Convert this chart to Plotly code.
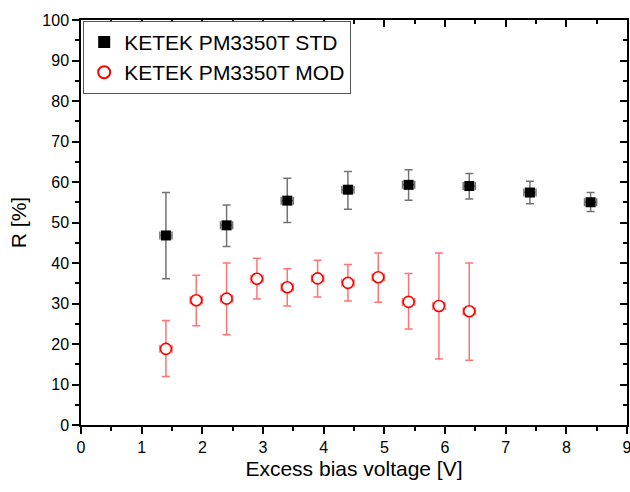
import plotly.graph_objects as go

# STD series
std_x = [1.4, 2.4, 3.4, 4.4, 5.4, 6.4, 7.4, 8.4]
std_y = [46.8, 49.3, 55.4, 58.1, 59.3, 59.0, 57.4, 55.0]
std_up = [57.4, 54.3, 60.9, 62.6, 63.0, 62.1, 60.2, 57.4]
std_lo = [36.1, 44.1, 50.0, 53.3, 55.5, 55.8, 54.6, 52.7]

# MOD series
mod_x = [1.4, 1.9, 2.4, 2.9, 3.4, 3.9, 4.4, 4.9, 5.4, 5.9, 6.4]
mod_y = [18.8, 30.8, 31.2, 36.1, 34.0, 36.2, 35.1, 36.5, 30.4, 29.4, 28.1]
mod_up = [25.8, 37.0, 40.0, 41.2, 38.6, 40.7, 39.6, 42.5, 37.4, 42.5, 40.0]
mod_lo = [12.0, 24.5, 22.3, 31.1, 29.4, 31.6, 30.6, 30.3, 23.7, 16.3, 16.0]

x_err = 0.1

x_ticks = [0, 1, 2, 3, 4, 5, 6, 7, 8, 9]
y_ticks = [0, 10, 20, 30, 40, 50, 60, 70, 80, 90, 100]

FONT = "Liberation Sans, Arial, sans-serif"

fig = go.Figure()

fig.add_trace(go.Scatter(
    x=std_x, y=std_y, mode="markers", name="KETEK PM3350T STD",
    marker=dict(symbol="square", size=10, color="black"),
    error_y=dict(type="data", symmetric=False,
                 array=[u - v for u, v in zip(std_up, std_y)],
                 arrayminus=[v - l for v, l in zip(std_y, std_lo)],
                 color="rgba(0,0,0,0.55)", thickness=1.5, width=4),
    error_x=dict(type="constant", value=x_err, color="rgba(0,0,0,0.55)",
                 thickness=1.5, width=4),
))

fig.add_trace(go.Scatter(
    x=mod_x, y=mod_y, mode="markers", name="KETEK PM3350T MOD",
    marker=dict(symbol="circle", size=11, color="white",
                line=dict(color="red", width=1.6)),
    error_y=dict(type="data", symmetric=False,
                 array=[u - v for u, v in zip(mod_up, mod_y)],
                 arrayminus=[v - l for v, l in zip(mod_y, mod_lo)],
                 color="rgba(255,0,0,0.55)", thickness=1.5, width=4),
    error_x=dict(type="constant", value=x_err, color="rgba(255,0,0,0.55)",
                 thickness=1.5, width=4),
))

# invisible trace so the mirror (top/right) axes get drawn
fig.add_trace(go.Scatter(x=x_ticks[:1], y=y_ticks[:1], xaxis="x2", yaxis="y2",
                         mode="markers", marker=dict(opacity=0),
                         showlegend=False, hoverinfo="skip"))

axis_common = dict(showgrid=False, zeroline=False, showline=True,
                   linecolor="black", linewidth=1.5, tickcolor="black",
                   tickwidth=1.5, automargin=False, ticklabeloverflow="allow",
                   tickfont=dict(family=FONT, size=16, color="black"))

fig.update_layout(
    width=630, height=492,
    margin=dict(l=81, r=3, t=20, b=67),
    plot_bgcolor="white", paper_bgcolor="white",
    font=dict(family=FONT, color="black"),
    xaxis=dict(range=[0, 9], tickvals=x_ticks, ticks="outside", ticklen=7,
               minor=dict(dtick=0.5, ticks="outside", ticklen=4,
                          tickcolor="black", tickwidth=1.5),
               title=dict(text="Excess bias voltage [V]",
                          font=dict(family=FONT, size=21), standoff=6),
               **axis_common),
    yaxis=dict(range=[0, 100], tickvals=y_ticks, ticks="outside", ticklen=7,
               minor=dict(dtick=5, ticks="outside", ticklen=4,
                          tickcolor="black", tickwidth=1.5),
               title=dict(text="R [%]", font=dict(family=FONT, size=21),
                          standoff=10),
               **axis_common),
    xaxis2=dict(range=[0, 9], overlaying="x", side="top", anchor="y2",
                tickvals=x_ticks, ticks="inside", ticklen=7,
                showticklabels=False,
                minor=dict(dtick=0.5, ticks="inside", ticklen=4,
                           tickcolor="black", tickwidth=1.5),
                **axis_common),
    yaxis2=dict(range=[0, 100], overlaying="y", side="right", anchor="x2",
                tickvals=y_ticks, ticks="inside", ticklen=7,
                showticklabels=False,
                minor=dict(dtick=5, ticks="inside", ticklen=4,
                           tickcolor="black", tickwidth=1.5),
                **axis_common),
    legend=dict(x=0.004, y=0.998, xanchor="left", yanchor="top",
                bgcolor="white", bordercolor="#555555", borderwidth=1,
                font=dict(family=FONT, size=21, color="black"),
                tracegroupgap=0, itemsizing="constant"),
    showlegend=True,
)

fig.write_html(
    "out.html",
    config={"displayModeBar": False},
    post_script="document.body.style.margin='0';document.body.style.overflow='hidden';",
)
